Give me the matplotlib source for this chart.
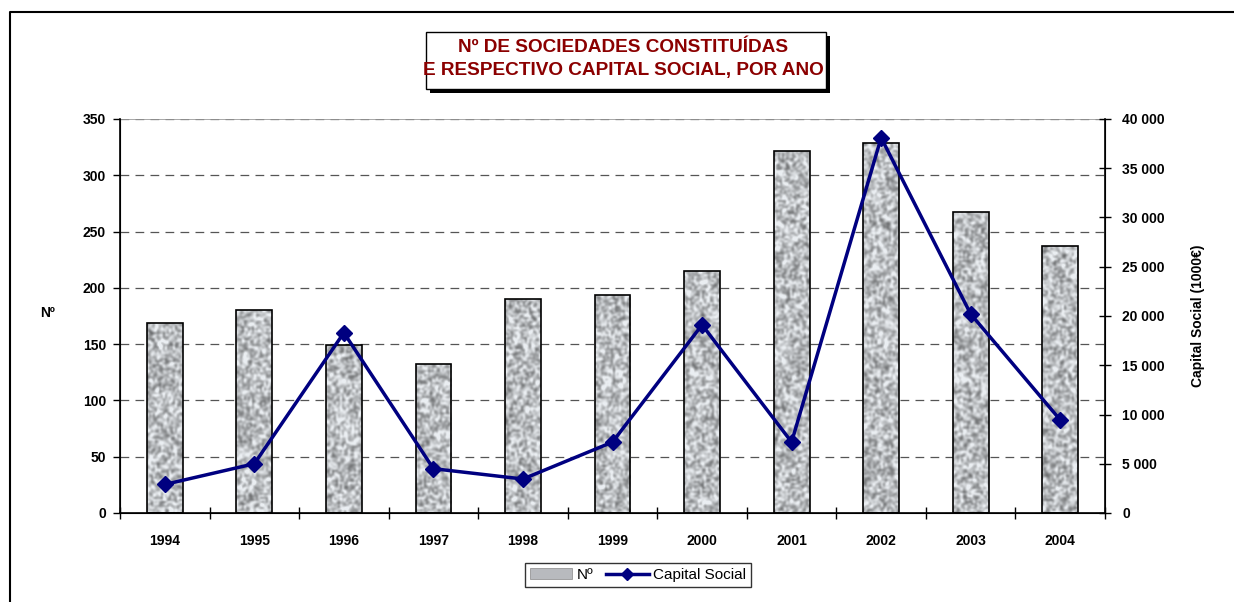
import numpy as np
import matplotlib
matplotlib.use('Agg')
import matplotlib.pyplot as plt
from matplotlib.patches import Rectangle
from matplotlib.lines import Line2D
from matplotlib.ticker import FuncFormatter, MultipleLocator

plt.rcParams['font.family'] = ['Liberation Sans', 'DejaVu Sans']

YEARS = ['1994', '1995', '1996', '1997', '1998', '1999', '2000', '2001', '2002', '2003', '2004']
N_SOCIEDADES = [169, 180, 149, 132, 190, 194, 215, 322, 329, 267, 237]
CAPITAL_SOCIAL = [2900, 5000, 18300, 4500, 3450, 7200, 19100, 7200, 38100, 20200, 9450]

TITLE = 'Nº DE SOCIEDADES CONSTITUÍDAS\nE RESPECTIVO CAPITAL SOCIAL, POR ANO'
TITLE_COLOR = '#8b0000'
LINE_COLOR = '#000080'

W, H = 1234, 602
fig = plt.figure(figsize=(W / 100, H / 100), dpi=100)
ax = fig.add_axes([120 / W, 1 - 513 / H, 985 / W, 394 / H])
ax2 = ax.twinx()

x = np.arange(len(YEARS))
bar_w = 0.4

# textured grey bars (noise texture is only decoration)
rng = np.random.default_rng(7)


def texture(h, w):
    # coarse noise, upsampled, then smoothed -> blotchy stone-like fill
    hs, ws = h // 2 + 8, w // 2 + 8
    t = rng.random((hs, ws))
    t = np.kron(t, np.ones((2, 2)))
    for _ in range(3):
        t = (t + np.roll(t, 1, 0) + np.roll(t, -1, 0) + np.roll(t, 1, 1) + np.roll(t, -1, 1)) / 5
    t = t[4:4 + h, 4:4 + w]
    t = (t - t.mean()) / (t.std() + 1e-9)
    g = np.clip(0.76 + 0.10 * t, 0.40, 0.95)
    rgb = np.dstack([g * 0.97, g * 0.985, g * 1.0])
    return np.clip(rgb, 0, 1)


bars = ax.bar(x, N_SOCIEDADES, width=bar_w, facecolor='none', edgecolor='black',
              linewidth=1.2, zorder=3)
for b, v in zip(bars, N_SOCIEDADES):
    ph = max(int(v * 1.126), 4)
    img = ax.imshow(texture(ph, 36), extent=(b.get_x(), b.get_x() + bar_w, 0, v),
                    aspect='auto', interpolation='bilinear', zorder=2)
    img.set_clip_path(b)

ax.set_xlim(-0.5, len(YEARS) - 0.5)
ax.set_ylim(0, 350)
ax.yaxis.set_major_locator(MultipleLocator(50))
ax.set_axisbelow(True)
ax.grid(axis='y', color='#555555', linestyle=(0, (7, 5)), linewidth=0.9, zorder=0)
ax.axhline(350, color='#999999', linewidth=1.2, zorder=1)

ax.set_xticks(x)
ax.set_xticklabels(YEARS, fontsize=10, fontweight='bold')
ax.set_xticks(np.arange(-0.5, len(YEARS), 1), minor=True)
ax.tick_params(axis='x', which='major', length=0, pad=15)
ax.tick_params(axis='x', which='minor', direction='inout', length=9, width=1)
ax.tick_params(axis='y', direction='out', length=5, width=1, pad=5, labelsize=10)
for t in ax.get_yticklabels():
    t.set_fontweight('bold')

for side in ['top']:
    ax.spines[side].set_visible(False)
    ax2.spines[side].set_visible(False)
for sp in ['left', 'bottom']:
    ax.spines[sp].set_linewidth(1.2)
ax2.spines['right'].set_linewidth(1.2)

ax2.plot(x, CAPITAL_SOCIAL, color=LINE_COLOR, linewidth=2.5, marker='D', markersize=8,
         zorder=5, label='Capital Social')
ax2.set_ylim(0, 40000)
ax2.yaxis.set_major_locator(MultipleLocator(5000))
ax2.yaxis.set_major_formatter(FuncFormatter(lambda v, p: f'{int(v):,}'.replace(',', ' ')))
ax2.tick_params(axis='y', direction='inout', length=9, width=1, pad=8, labelsize=10)
for t in ax2.get_yticklabels():
    t.set_fontweight('bold')

fig.text(48 / W, 1 - 313 / H, 'Nº', fontsize=10, fontweight='bold', ha='center', va='center')
fig.text(1198 / W, 1 - 316 / H, 'Capital Social (1000€)', fontsize=10, fontweight='bold',
         rotation=90, ha='center', va='center')

# title box with shadow
fig.patches.append(Rectangle((430 / W, 1 - 93 / H), 400 / W, 57 / H, transform=fig.transFigure,
                             facecolor='black', edgecolor='none', zorder=1))
fig.patches.append(Rectangle((426 / W, 1 - 89 / H), 400 / W, 57 / H, transform=fig.transFigure,
                             facecolor='white', edgecolor='black', linewidth=1, zorder=2))
fig.text(623 / W, 1 - 59 / H, TITLE, fontsize=13.7, fontweight='bold', color=TITLE_COLOR,
         ha='center', va='center', linespacing=1.45, zorder=3)

# outer frame
fig.add_artist(Line2D([10 / W, 10 / W, 1], [0, 1 - 12 / H, 1 - 12 / H],
                      transform=fig.transFigure, color='black', linewidth=1.5))

# legend
bar_handle = Rectangle((0, 0), 1, 1, facecolor='#b8babe', edgecolor='#888888', linewidth=0.5)
line_handle = Line2D([], [], color=LINE_COLOR, linewidth=2.5, marker='D', markersize=6)
fig.legend([bar_handle, line_handle], ['Nº', 'Capital Social'], loc='center',
           bbox_to_anchor=(638 / W, 1 - 575 / H), ncol=2, fontsize=11, frameon=True,
           fancybox=False, edgecolor='black', handlelength=2.8, handletextpad=0.3,
           columnspacing=0.8, borderpad=0.3, handleheight=0.7)

fig.savefig('out.png', dpi=100)
